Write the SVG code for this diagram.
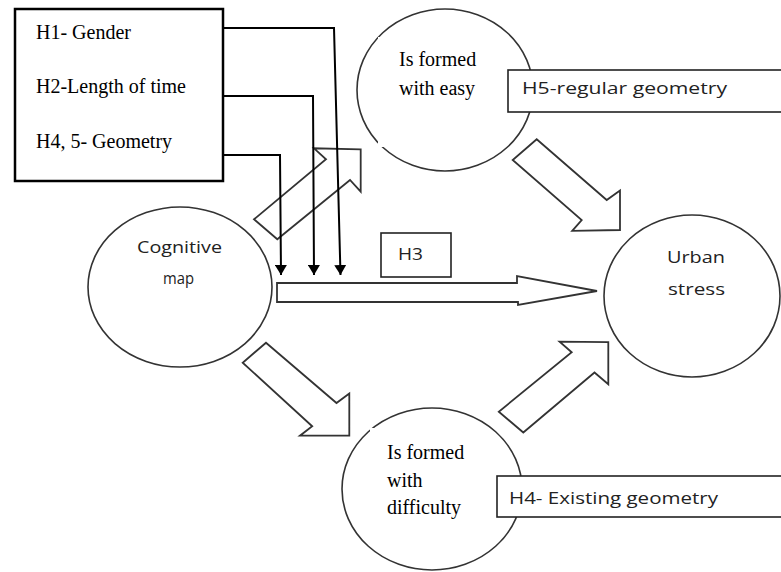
<svg xmlns="http://www.w3.org/2000/svg" width="781" height="572" viewBox="0 0 781 572">
<style>
.circ{fill:#fff;stroke:#333;stroke-width:1.6}
.mask{fill:#fff;stroke:none}
.serif{font-family:"Liberation Serif","Times New Roman",serif;font-size:20px;fill:#000}
.sans{font-family:"Open Sans","Liberation Sans",sans-serif;font-size:17px;fill:#222}
.lbl{fill:#fff;stroke:#222;stroke-width:1.6}
.hollow{fill:#fff;stroke:#333;stroke-width:1.8;stroke-linejoin:miter}
.line{fill:none;stroke:#000;stroke-width:2}
</style>
<defs>
<marker id="ah" markerWidth="11" markerHeight="12" refX="10" refY="6" orient="auto" markerUnits="userSpaceOnUse" viewBox="0 0 11 12">
<path d="M0,0 L10,6 L0,12 Z" fill="#000"/>
</marker>
</defs>
<rect width="781" height="572" fill="#fff"/>

<g id="node-easy">
<ellipse class="circ" cx="445" cy="90" rx="88" ry="81"/>
<rect class="mask" x="378" y="37" width="117" height="110"/>
<text class="serif" x="399" y="66">Is formed</text>
<text class="serif" x="399" y="95">with easy</text>
</g>

<g id="node-difficulty">
<ellipse class="circ" cx="432" cy="489" rx="90" ry="81"/>
<rect class="mask" x="370" y="428" width="120" height="97"/>
<text class="serif" x="387" y="459">Is formed</text>
<text class="serif" x="387" y="487">with</text>
<text class="serif" x="387" y="514">difficulty</text>
</g>

<g id="node-cognitive">
<ellipse class="circ" cx="180" cy="287" rx="92" ry="80"/>
<text class="sans" x="137" y="253" textLength="85" lengthAdjust="spacingAndGlyphs">Cognitive</text>
<text class="sans" x="163" y="284" textLength="31" lengthAdjust="spacingAndGlyphs">map</text>
</g>

<g id="node-urban">
<ellipse class="circ" cx="692" cy="296" rx="88" ry="81"/>
<text class="sans" x="667" y="263" textLength="58" lengthAdjust="spacingAndGlyphs">Urban</text>
<text class="sans" x="668" y="295" textLength="57" lengthAdjust="spacingAndGlyphs">stress</text>
</g>

<g id="node-h5">
<rect class="lbl" x="508" y="70" width="280" height="42"/>
<text class="sans" x="522" y="94" textLength="205" lengthAdjust="spacingAndGlyphs">H5-regular geometry</text>
</g>

<g id="node-h4">
<rect class="lbl" x="497" y="476" width="290" height="41"/>
<text class="sans" x="509" y="504" textLength="209" lengthAdjust="spacingAndGlyphs">H4- Existing geometry</text>
</g>

<g id="node-h3">
<rect class="lbl" x="381" y="233" width="70" height="44"/>
<text class="sans" x="398" y="260" textLength="25" lengthAdjust="spacingAndGlyphs">H3</text>
</g>

<g id="node-hypotheses">
<rect x="15" y="9" width="208" height="172" fill="#fff" stroke="#000" stroke-width="2.5"/>
<text class="serif" x="36" y="39" font-size="21">H1- Gender</text>
<text class="serif" x="36" y="93" font-size="21">H2-Length of time</text>
<text class="serif" x="36" y="148" font-size="21">H4, 5- Geometry</text>
</g>

<g id="connectors">
<polygon class="hollow" points="360.7,149.3 314,148.3 326,159.3 254,219.3 277.3,239.3 350,180 360.7,191.7"/>
<polygon class="hollow" points="349.3,393.5 336.5,403 266,342.7 242.7,362.7 312.2,426.3 300,435.7 349.3,435.5"/>
<polygon class="hollow" points="620,230 620,190.5 606.7,200 536.7,139.3 512.7,160 581.7,220 572.2,230.8"/>
<polygon class="hollow" points="608.3,342.2 559.6,341.7 571.7,352.2 498.8,411.7 523.3,432.5 594.5,372.5 608.3,384.2"/>
<polygon class="hollow" points="277,283 517,283 517,276 597,291 518,305 518,302 277,302"/>
<polyline class="line" points="223,28 334,28 340.5,275" marker-end="url(#ah)"/>
<polyline class="line" points="223,96 313,96 314,275" marker-end="url(#ah)"/>
<polyline class="line" points="223,155 280,155 281,275" marker-end="url(#ah)"/>
</g>
</svg>
